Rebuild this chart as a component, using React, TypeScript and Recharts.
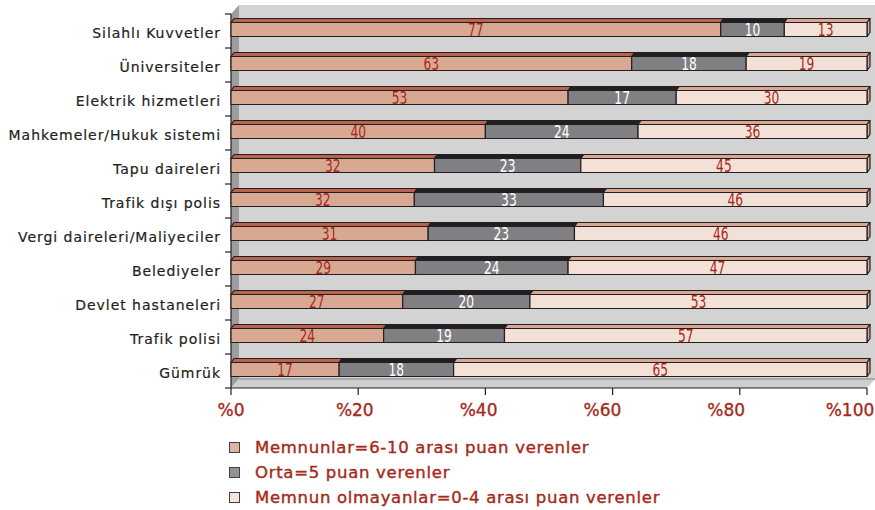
import { BarChart, Bar, XAxis, YAxis, ReferenceArea, LabelList } from 'recharts';

const CATEGORIES = [
  'Silahlı Kuvvetler',
  'Üniversiteler',
  'Elektrik hizmetleri',
  'Mahkemeler/Hukuk sistemi',
  'Tapu daireleri',
  'Trafik dışı polis',
  'Vergi daireleri/Maliyeciler',
  'Belediyeler',
  'Devlet hastaneleri',
  'Trafik polisi',
  'Gümrük',
];
const SATISFIED = [77, 63, 53, 40, 32, 32, 31, 29, 27, 24, 17];
const NEUTRAL = [10, 18, 17, 24, 23, 33, 23, 24, 20, 19, 18];
const UNSATISFIED = [13, 19, 30, 36, 45, 46, 46, 47, 53, 57, 65];
const X_TICKS = [0, 0.2, 0.4, 0.6, 0.8, 1];

const data = CATEGORIES.map((name, i) => ({
  name,
  satisfied: SATISFIED[i],
  neutral: NEUTRAL[i],
  unsatisfied: UNSATISFIED[i],
}));

const RED = '#a52a1c';
const INK = '#231f20';
const FONT = '"DejaVu Sans", sans-serif';

const SERIES = [
  { key: 'satisfied', label: 'Memnunlar=6-10 arası puan verenler', front: '#d9a893', top: '#b6644e', text: RED },
  { key: 'neutral', label: 'Orta=5 puan verenler', front: '#808084', top: '#231f20', text: '#ffffff' },
  { key: 'unsatisfied', label: 'Memnun olmayanlar=0-4 arası puan verenler', front: '#f3e0d6', top: '#d9a893', text: RED },
];

// 3d depth of the walls and of the bars
const WALL_DX = 8;
const WALL_DY = 9;
const BAR_DX = 3;
const BAR_DY = 4;
const LIFT = 1.5;

const Walls = (props: any) => {
  const { x, y, width, height } = props;
  const n = CATEGORIES.length;
  const bottom = y + height;
  return (
    <g>
      <rect x={x + WALL_DX} y={y - WALL_DY} width={width} height={height} fill="#d3d3d3" />
      <polygon
        points={`${x},${y} ${x + WALL_DX},${y - WALL_DY} ${x + WALL_DX},${bottom - WALL_DY} ${x},${bottom}`}
        fill="#9d9d9f"
      />
      <polygon
        points={`${x},${bottom} ${x + WALL_DX},${bottom - WALL_DY} ${x + width + WALL_DX},${bottom - WALL_DY} ${x + width},${bottom}`}
        fill="#cfcfd0"
      />
      <line x1={x + WALL_DX} y1={bottom - WALL_DY} x2={x + width + WALL_DX} y2={bottom - WALL_DY} stroke="#9d9d9f" strokeWidth={1.5} />
      <line x1={x} y1={y} x2={x} y2={bottom} stroke={INK} strokeWidth={1.2} />
      {Array.from({ length: n + 1 }, (_, i) => (
        <line key={i} x1={x - 6} x2={x} y1={y + (i * height) / n} y2={y + (i * height) / n} stroke={INK} strokeWidth={1.2} />
      ))}
    </g>
  );
};

const makeShape = (front: string, top: string, side: boolean) => (props: any) => {
  const { x, width, height } = props;
  const y = props.y - LIFT;
  if (!width || width <= 0) return <g />;
  return (
    <g stroke={INK} strokeWidth={1.2} strokeLinejoin="round">
      <polygon
        points={`${x},${y} ${x + BAR_DX},${y - BAR_DY} ${x + width + BAR_DX},${y - BAR_DY} ${x + width},${y}`}
        fill={top}
      />
      {side && (
        <polygon
          points={`${x + width},${y} ${x + width + BAR_DX},${y - BAR_DY} ${x + width + BAR_DX},${y + height - BAR_DY} ${x + width},${y + height}`}
          fill={top}
        />
      )}
      <rect x={x} y={y} width={width} height={height} fill={front} />
    </g>
  );
};

const makeLabel = (color: string) => (props: any) => {
  const { x, y, width, height, value } = props;
  const cx = x + width / 2;
  const cy = y - LIFT + height / 2;
  return (
    <text
      transform={`translate(${cx},${cy + 6.5}) scale(0.7,1)`}
      textAnchor="middle"
      fill={color}
      fontFamily={FONT}
      fontSize={17.5}
    >
      {value}
    </text>
  );
};

const CategoryTick = (props: any) => {
  const { x, y, payload } = props;
  return (
    <text
      x={x}
      y={y + 7}
      textAnchor="end"
      fill={INK}
      fontFamily={FONT}
      fontSize={14}
      letterSpacing={0.95}
      stroke={INK}
      strokeWidth={0.2}
    >
      {payload.value}
    </text>
  );
};

const PercentTick = (props: any) => {
  const { x, y, payload } = props;
  const pct = Math.round(payload.value * 100);
  return (
    <text
      x={x - pct * 0.17}
      y={y + 19}
      textAnchor="middle"
      fill={RED}
      stroke={RED}
      strokeWidth={0.35}
      fontFamily={FONT}
      fontSize={17}
    >
      {`%${pct}`}
    </text>
  );
};

export default function App() {
  return (
    <div style={{ position: 'absolute', left: 0, top: 0, width: 875, height: 510, background: '#fff' }}>
      <BarChart
        width={875}
        height={425}
        data={data}
        layout="vertical"
        stackOffset="expand"
        barSize={14}
        margin={{ top: 14, right: 8, bottom: 7, left: 0 }}
      >
        <ReferenceArea x1={0} x2={1} shape={<Walls />} ifOverflow="visible" />
        <XAxis
          type="number"
          domain={[0, 1]}
          ticks={X_TICKS}
          height={30}
          tickSize={7}
          tickMargin={2}
          axisLine={{ stroke: INK, strokeWidth: 1.2 }}
          tickLine={{ stroke: INK, strokeWidth: 1.2 }}
          tick={<PercentTick />}
        />
        <YAxis
          type="category"
          dataKey="name"
          width={231}
          tickSize={0}
          tickMargin={10}
          axisLine={false}
          tickLine={false}
          tick={<CategoryTick />}
        />
        {SERIES.map((s, i) => (
          <Bar
            key={s.key}
            dataKey={s.key}
            stackId="a"
            isAnimationActive={false}
            shape={makeShape(s.front, s.top, i === SERIES.length - 1)}
          >
            <LabelList dataKey={s.key} content={makeLabel(s.text)} />
          </Bar>
        ))}
      </BarChart>
      <div
        style={{
          position: 'absolute',
          left: 229,
          top: 435,
          fontFamily: FONT,
          fontSize: 16.5,
          letterSpacing: 0.7,
          color: RED,
          WebkitTextStroke: `0.4px ${RED}`,
        }}
      >
        {SERIES.map((s) => (
          <div key={s.key} style={{ display: 'flex', alignItems: 'center', height: 25 }}>
            <div
              style={{
                width: 11,
                height: 11,
                background: s.front,
                border: `1.5px solid ${INK}`,
                marginRight: 15,
                boxSizing: 'border-box',
                opacity: 0.85,
              }}
            />
            <span>{s.label}</span>
          </div>
        ))}
      </div>
    </div>
  );
}
